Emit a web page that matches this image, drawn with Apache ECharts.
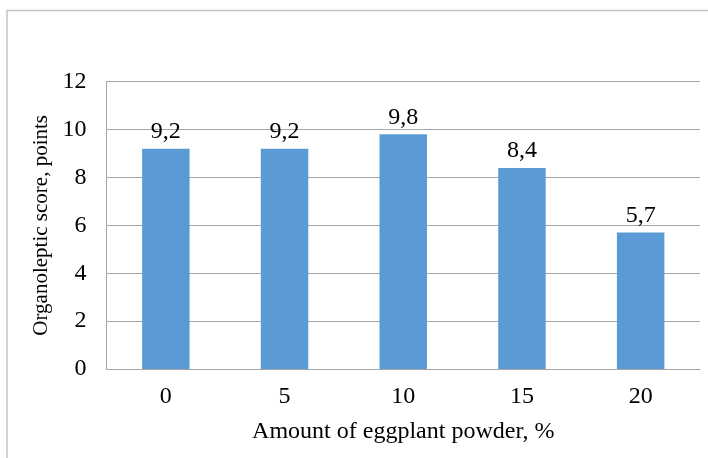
<!DOCTYPE html>
<html>
<head>
<meta charset="utf-8">
<script src="https://cdn.jsdelivr.net/npm/echarts@6/dist/echarts.min.js"></script>
<style>
  html, body { margin: 0; padding: 0; background: #fff; }
  #chart { width: 708px; height: 458px; }
</style>
</head>
<body>
<div id="chart"></div>
<script>
// Organoleptic score by amount of eggplant powder
const categories = ['0', '5', '10', '15', '20'];
const scores = [9.2, 9.2, 9.8, 8.4, 5.7];
const yTicks = { min: 0, max: 12, interval: 2 };
const xTitle = 'Amount of eggplant powder, %';
const yTitle = 'Organoleptic score, points';

const FONT = '"Liberation Serif", "Times New Roman", serif';
const chart = echarts.init(document.getElementById('chart'), null, { renderer: 'canvas' });

chart.setOption({
  animation: false,
  backgroundColor: '#ffffff',
  graphic: [{
    type: 'rect',
    shape: { x: 7, y: 10.5, width: 760, height: 500 },
    style: { fill: 'none', stroke: '#c4c4c4', lineWidth: 1.5 },
    silent: true
  }],
  grid: { left: 106.5, right: 8, top: 81.7, bottom: 89, containLabel: false },
  xAxis: {
    type: 'category',
    data: categories,
    axisLine: { show: true, lineStyle: { color: '#a6a6a6', width: 1 } },
    axisTick: { show: false },
    axisLabel: { color: '#000', fontFamily: FONT, fontSize: 24, margin: 16 },
    name: xTitle,
    nameLocation: 'middle',
    nameGap: 51,
    nameTextStyle: { color: '#000', fontFamily: FONT, fontSize: 24 }
  },
  yAxis: {
    type: 'value',
    min: yTicks.min,
    max: yTicks.max,
    interval: yTicks.interval,
    axisLine: { show: true, lineStyle: { color: '#a6a6a6', width: 1 } },
    axisTick: { show: false },
    splitLine: { show: true, lineStyle: { color: '#a6a6a6', width: 1 } },
    axisLabel: { color: '#000', fontFamily: FONT, fontSize: 24, margin: 20 },
    name: yTitle,
    nameLocation: 'middle',
    nameGap: 52,
    nameTextStyle: { color: '#000', fontFamily: FONT, fontSize: 21 }
  },
  series: [{
    type: 'bar',
    data: scores,
    barWidth: '40%',
    itemStyle: { color: '#5b9bd5' },
    label: {
      show: true,
      position: 'top',
      distance: 5,
      color: '#000',
      fontFamily: FONT,
      fontSize: 24,
      formatter: p => String(p.value).replace('.', ',')
    }
  }]
});
</script>
</body>
</html>
